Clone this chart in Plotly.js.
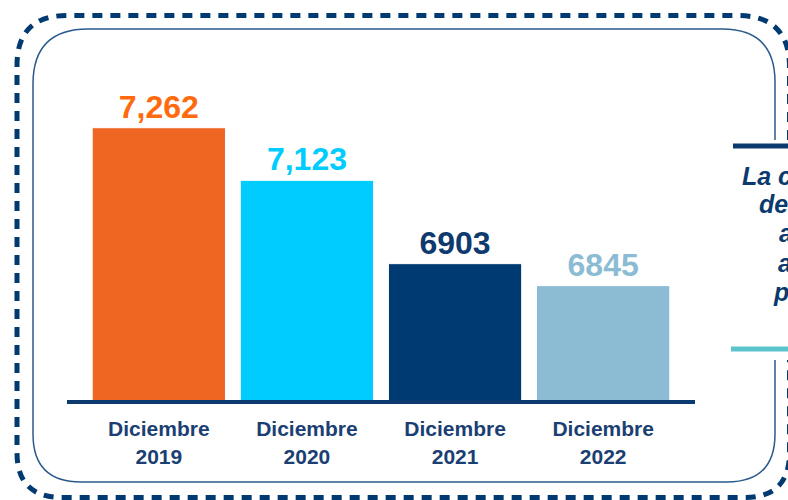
<!DOCTYPE html>
<html>
<head>
<meta charset="utf-8">
<script src="https://cdn.plot.ly/plotly-3.0.1.min.js"></script>
<style>html,body{margin:0;padding:0;background:#fff;}#chart{width:788px;height:500px;}</style>
</head>
<body>
<div id="chart"></div>
<script>
// ---- data ----
const categories = ['Diciembre 2019', 'Diciembre 2020', 'Diciembre 2021', 'Diciembre 2022'];
const tickLabels = ['Diciembre<br>2019', 'Diciembre<br>2020', 'Diciembre<br>2021', 'Diciembre<br>2022'];
const values = [7262, 7123, 6903, 6845];
const valueLabels = ['7,262', '7,123', '6903', '6845'];
const barColors = ['#EF6623', '#00CCFF', '#003A72', '#8BBCD4'];
const labelColors = ['#FF6A0E', '#00CCFF', '#0E3A6E', '#8BBCD4'];
const sideText = ['La c', 'de', 'a', 'a', 'p'];

// ---- layout helpers (pixel -> paper) ----
const M = {l: 67, r: 93, t: 30, b: 100};
const PW = 788 - M.l - M.r, PH = 500 - M.t - M.b;
const px = x => (x - M.l) / PW;
const py = y => (500 - M.b - y) / PH;
const P = (x, y) => px(x).toFixed(5) + ',' + py(y).toFixed(5);

const outerPath =
  'M' + P(789.5, 140) + ' L' + P(789.5, 67) + ' Q' + P(789.5, 15.5) + ' ' + P(737.5, 15.5) +
  ' L' + P(67, 15.5) + ' Q' + P(17, 15.5) + ' ' + P(17, 65.5) +
  ' L' + P(17, 452.5) + ' Q' + P(17, 497.5) + ' ' + P(62, 497.5) +
  ' L' + P(744.5, 497.5) + ' Q' + P(789.5, 497.5) + ' ' + P(789.5, 452.5) +
  ' L' + P(789.5, 360);
const innerPath =
  'M' + P(775, 140) + ' L' + P(775, 82) + ' Q' + P(775, 29) + ' ' + P(722, 29) +
  ' L' + P(88, 29) + ' Q' + P(33, 29) + ' ' + P(33, 84) +
  ' L' + P(33, 434) + ' Q' + P(33, 482) + ' ' + P(81, 482) +
  ' L' + P(727, 482) + ' Q' + P(775, 482) + ' ' + P(775, 434) +
  ' L' + P(775, 360);

const font = 'Liberation Sans, Arial, sans-serif';

const trace = {
  type: 'bar',
  x: categories,
  y: values,
  text: valueLabels,
  texttemplate: '%{text}',
  textposition: 'outside',
  textfont: {family: font, size: 32, weight: 'bold', color: labelColors},
  cliponaxis: false,
  marker: {color: barColors, line: {color: '#ffffff', width: 1}},
  hoverinfo: 'none'
};

const sideX = [740, 757, 777, 776, 771];
const sideY = [176, 204.5, 233, 262.5, 292];

const layout = {
  width: 788, height: 500,
  margin: M,
  paper_bgcolor: '#ffffff', plot_bgcolor: 'rgba(0,0,0,0)',
  showlegend: false,
  bargap: 0.1,
  font: {family: font},
  xaxis: {
    type: 'category',
    range: [-0.62, 3.62],
    tickvals: categories, ticktext: tickLabels,
    tickfont: {family: font, size: 21, weight: 'bold', color: '#1B3F73'},
    ticklabelstandoff: 7,
    showline: true, linecolor: '#0B3A6E', linewidth: 4,
    ticks: '', showgrid: false, zeroline: false, fixedrange: true
  },
  yaxis: {
    range: [6543, 7520],
    visible: false, showgrid: false, zeroline: false, fixedrange: true
  },
  shapes: [
    {type: 'path', xref: 'paper', yref: 'paper', path: outerPath,
     line: {color: '#003A70', width: 5, dash: '10px,8px'}},
    {type: 'path', xref: 'paper', yref: 'paper', path: innerPath,
     line: {color: '#2B5A8D', width: 1.5}},
    {type: 'line', xref: 'paper', yref: 'paper', x0: px(733), x1: px(792), y0: py(146), y1: py(146),
     line: {color: '#0B3A6E', width: 5}},
    {type: 'line', xref: 'paper', yref: 'paper', x0: px(731), x1: px(792), y0: py(349), y1: py(349),
     line: {color: '#5BC4CC', width: 5}}
  ],
  annotations: sideText.map((t, i) => ({
    xref: 'paper', yref: 'paper', x: px(sideX[i]), y: py(sideY[i]),
    xanchor: 'left', yanchor: 'middle', showarrow: false, text: t,
    font: {family: font, size: 25, weight: 'bold', style: 'italic', color: '#0B3A6E'}
  }))
};

Plotly.newPlot('chart', [trace], layout, {staticPlot: true, displayModeBar: false});
</script>
</body>
</html>
